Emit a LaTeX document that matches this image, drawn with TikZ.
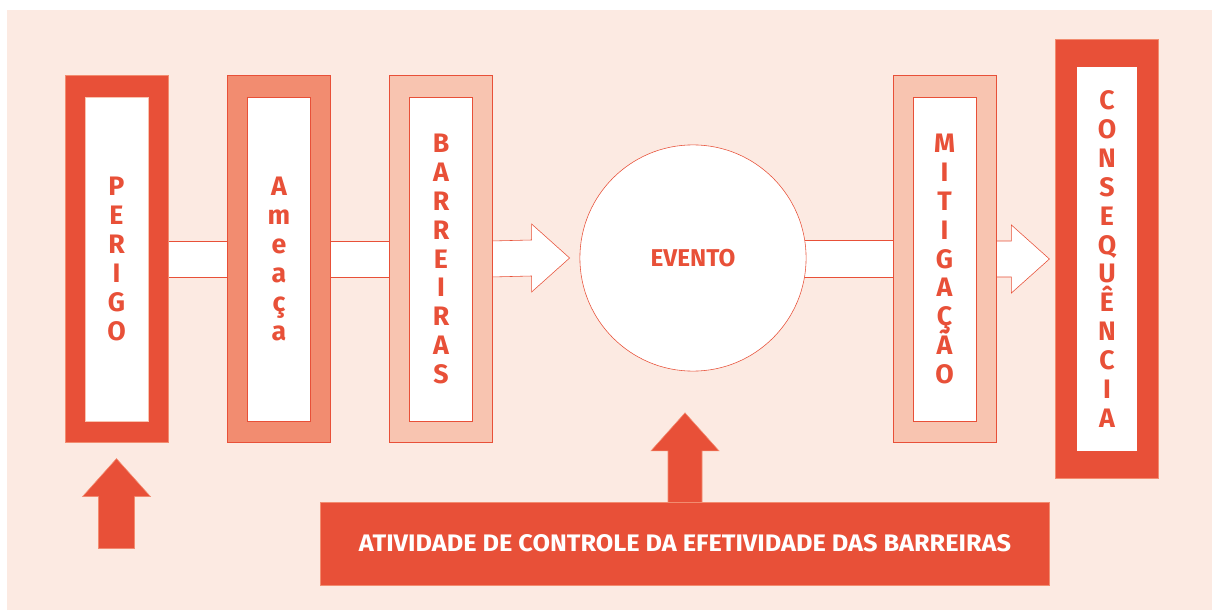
\documentclass[tikz,border=0pt]{standalone}
\usepackage{fontspec}
\setmainfont{Fira Sans}
\usepackage{tikz}
\usetikzlibrary{positioning,calc}
\definecolor{risk}{RGB}{232,80,56}
\definecolor{salmon}{RGB}{242,140,112}
\definecolor{blush}{RGB}{248,196,176}
\definecolor{paper}{RGB}{252,234,226}
\pgfdeclarelayer{bg}
\pgfdeclarelayer{links}
\pgfsetlayers{bg,links,main}
\newcommand{\stackfont}{\bfseries\fontsize{19}{20.6}\selectfont\lineskiplimit -20pt\relax}
\def\px{0.70866pt}

\begin{document}
\begin{tikzpicture}[x=0.025cm,y=0.025cm,line width=1.6pt,
    column/.style={draw=risk,minimum width=103*\px,minimum height=368*\px,inner sep=0pt},
    strong/.style={column,fill=risk,draw=salmon},
    medium/.style={column,fill=salmon},
    weak/.style={column,fill=blush},
    slot/.style={draw=risk,fill=white,minimum width=63*\px,minimum height=325*\px,inner sep=0pt,
      text=risk,align=center,font=\stackfont},
    bar/.style={draw=risk,fill=white},
    push/.style={draw=salmon,fill=risk}]

    \begin{pgfonlayer}{bg}
      \fill[paper] (7,-10) rectangle (1212,-610);
    \end{pgfonlayer}
    \useasboundingbox (0,0) rectangle (1212,-610);

    \node[strong] (perigo)        at (116.5,-259) {};
    \node[slot,draw=blush] (perigo-in) at (perigo) {P\\E\\R\\I\\G\\O};
    \node[medium] (ameaca)        at (279,-259) {};
    \node[slot] (ameaca-in)       at (ameaca) {A\\m\\e\\a\\ç\\a};
    \node[weak] (barreiras)       at (441,-259) {};
    \node[slot] (barreiras-in)    at (barreiras) {B\\A\\R\\R\\E\\I\\R\\A\\S};
    \node[circle,draw=risk,fill=white,minimum size=227*\px,inner sep=0pt,text=risk,
      font=\bfseries\fontsize{17.3}{18}\selectfont] (evento) at (693,-258) {EVENTO};
    \node[weak] (mitigacao)       at (944.5,-259) {};
    \node[slot] (mitigacao-in)    at (mitigacao) {M\\I\\T\\I\\G\\A\\Ç\\Ã\\O};
    \node[strong,minimum height=440*\px] (consequencia) at (1107,-259) {};
    \node[slot,draw=none,minimum width=60*\px,minimum height=386*\px] (consequencia-in)
      at (consequencia) {C\\O\\N\\S\\E\\Q\\U\\Ê\\N\\C\\I\\A};
    \node[push,minimum width=732*\px,minimum height=83*\px,text=white,
      font=\bfseries\fontsize{17}{18}\selectfont] (controle) at (685,-543.5)
      {\scalebox{1.06}[1]{ATIVIDADE DE CONTROLE DA EFETIVIDADE DAS BARREIRAS}};

    \coordinate (t1) at ($(evento.west)+(-10,0)$);
    \coordinate (t2) at ($(consequencia.west)+(-6,0)$);
    \coordinate (t3) at ($(controle.north)+(0,89)$);
    \coordinate (t4) at ($(perigo.south)+(0,-16)$);
    \coordinate (base) at ($(t4)+(0,-90)$);

    % white bars between the columns
    \begin{pgfonlayer}{links}
    \draw[bar] ($(perigo.east)+(-2,18)$) rectangle ($(ameaca.west)+(2,-18)$);
    \draw[bar] ($(ameaca.east)+(-2,18)$) rectangle ($(barreiras.west)+(2,-18)$);
    \draw[bar] ($(evento.east)+(-8,18)$) rectangle ($(mitigacao.west)+(2,-18)$);
    % open arrows into the event and the consequence
    \draw[bar] ($(barreiras.east)+(-2,18)$) -- ($(t1)+(-38,18)$) -- ($(t1)+(-38,34)$)
      -- (t1) -- ($(t1)+(-38,-34)$) -- ($(t1)+(-38,-18)$) -- ($(barreiras.east)+(-2,-18)$);
    \draw[bar] ($(mitigacao.east)+(-2,18)$) -- ($(t2)+(-38,18)$) -- ($(t2)+(-38,34)$)
      -- (t2) -- ($(t2)+(-38,-34)$) -- ($(t2)+(-38,-18)$) -- ($(mitigacao.east)+(-2,-18)$);
    % solid arrows pointing up
    \draw[push] ($(controle.north)+(-17,-1)$) -- ($(t3)+(-17,-38)$) -- ($(t3)+(-34,-38)$)
      -- (t3) -- ($(t3)+(34,-38)$) -- ($(t3)+(17,-38)$) -- ($(controle.north)+(17,-1)$);
    \end{pgfonlayer}
    \draw[push] ($(base)+(-18,0)$) -- ($(t4)+(-18,-38)$) -- ($(t4)+(-34,-38)$)
      -- (t4) -- ($(t4)+(34,-38)$) -- ($(t4)+(18,-38)$) -- ($(base)+(18,0)$) -- cycle;

  \end{tikzpicture}
\end{document}
